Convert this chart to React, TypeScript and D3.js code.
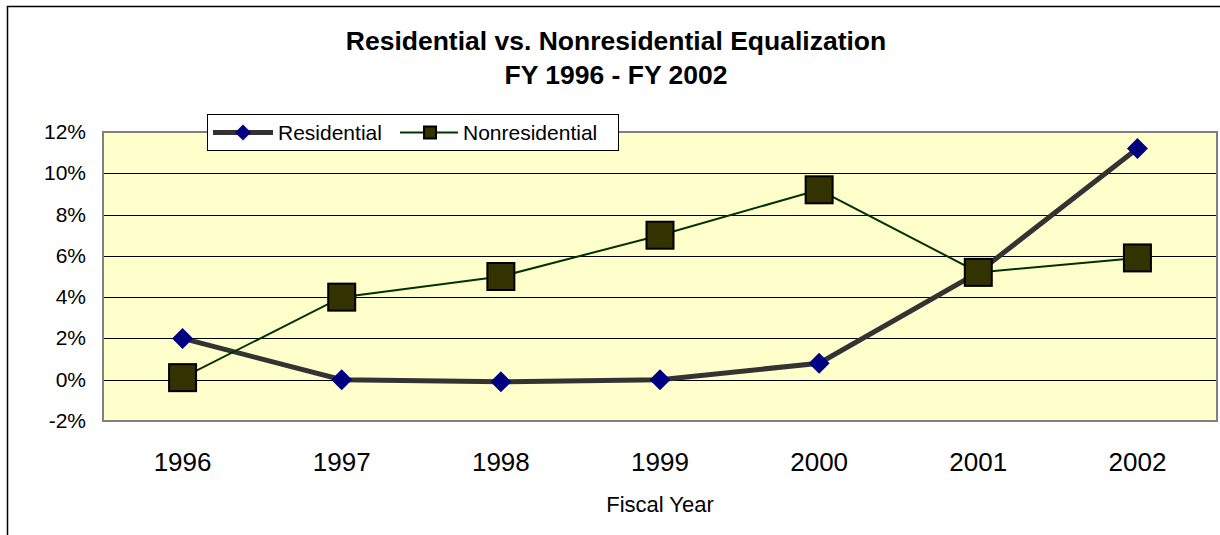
import React from "react";
import * as d3 from "d3";

const years = ["1996", "1997", "1998", "1999", "2000", "2001", "2002"];
const residential = [2.0, 0.0, -0.1, 0.0, 0.8, 5.2, 11.2];
const nonresidential = [0.1, 4.0, 5.0, 7.0, 9.2, 5.2, 5.9];
const yTicks = [-2, 0, 2, 4, 6, 8, 10, 12];
const titleLines = ["Residential vs. Nonresidential Equalization", "FY 1996 - FY 2002"];
const xAxisTitle = "Fiscal Year";
const seriesNames = ["Residential", "Nonresidential"];

const W = 1220;
const H = 535;
const plot = { left: 103, right: 1217, top: 132, bottom: 421 };
const FONT = "'Liberation Sans', Arial, sans-serif";

export default function App() {
  const x = d3.scaleBand<string>().domain(years).range([plot.left, plot.right]);
  const y = d3.scaleLinear().domain([-2, 12]).range([plot.bottom, plot.top]);
  const cx = (d: string) => (x(d) as number) + x.bandwidth() / 2;

  const line = d3
    .line<number>()
    .x((_, i) => cx(years[i]))
    .y((d) => y(d));

  const diamond = (px: number, py: number, r: number) =>
    `M${px},${py - r}L${px + r},${py}L${px},${py + r}L${px - r},${py}Z`;

  return (
    <svg
      width={W}
      height={H}
      style={{ position: "absolute", left: 0, top: 0, background: "#fff" }}
      fontFamily={FONT}
    >
      <rect x={7.5} y={6.5} width={W} height={H} fill="#fff" stroke="#000" strokeWidth={1.5} />

      <text x={616} y={50} textAnchor="middle" fontWeight="bold" fontSize={26.5}>
        {titleLines[0]}
      </text>
      <text x={616} y={84} textAnchor="middle" fontWeight="bold" fontSize={26.5}>
        {titleLines[1]}
      </text>

      <rect
        x={plot.left}
        y={plot.top}
        width={plot.right - plot.left}
        height={plot.bottom - plot.top}
        fill="#FFFFCC"
      />
      {yTicks.slice(1, -1).map((t) => (
        <line
          key={t}
          x1={plot.left}
          x2={plot.right}
          y1={Math.round(y(t)) + 0.5}
          y2={Math.round(y(t)) + 0.5}
          stroke="#000"
          strokeWidth={1}
        />
      ))}
      <rect
        x={plot.left}
        y={plot.top}
        width={plot.right - plot.left}
        height={plot.bottom - plot.top}
        fill="none"
        stroke="#808080"
        strokeWidth={2}
      />

      {yTicks.map((t) => (
        <text key={t} x={86} y={y(t) + 7} textAnchor="end" fontSize={21}>
          {`${t}%`}
        </text>
      ))}
      {years.map((yr) => (
        <text key={yr} x={cx(yr)} y={471} textAnchor="middle" fontSize={26}>
          {yr}
        </text>
      ))}
      <text x={(plot.left + plot.right) / 2} y={512} textAnchor="middle" fontSize={22}>
        {xAxisTitle}
      </text>

      <path d={line(residential) as string} fill="none" stroke="#333333" strokeWidth={5} />
      <path d={line(nonresidential) as string} fill="none" stroke="#003300" strokeWidth={2} />

      {residential.map((v, i) => (
        <path key={`r${i}`} d={diamond(cx(years[i]), y(v), 10.5)} fill="#000080" />
      ))}
      {nonresidential.map((v, i) => (
        <rect
          key={`n${i}`}
          x={cx(years[i]) - 13.5}
          y={y(v) - 13.5}
          width={27}
          height={27}
          fill="#333300"
          stroke="#000"
          strokeWidth={2}
        />
      ))}

      <g>
        <rect x={207.5} y={114.5} width={411} height={36} fill="#fff" stroke="#000" strokeWidth={1} />
        <line x1={213} x2={273} y1={132.5} y2={132.5} stroke="#333333" strokeWidth={5} />
        <path d={diamond(243, 132.5, 8)} fill="#000080" />
        <text x={278} y={140} fontSize={21}>
          {seriesNames[0]}
        </text>
        <line x1={400} x2={458} y1={132.5} y2={132.5} stroke="#003300" strokeWidth={2} />
        <rect x={424} y={126.5} width={12} height={12} fill="#333300" stroke="#000" strokeWidth={2} />
        <text x={463} y={140} fontSize={21}>
          {seriesNames[1]}
        </text>
      </g>
    </svg>
  );
}
